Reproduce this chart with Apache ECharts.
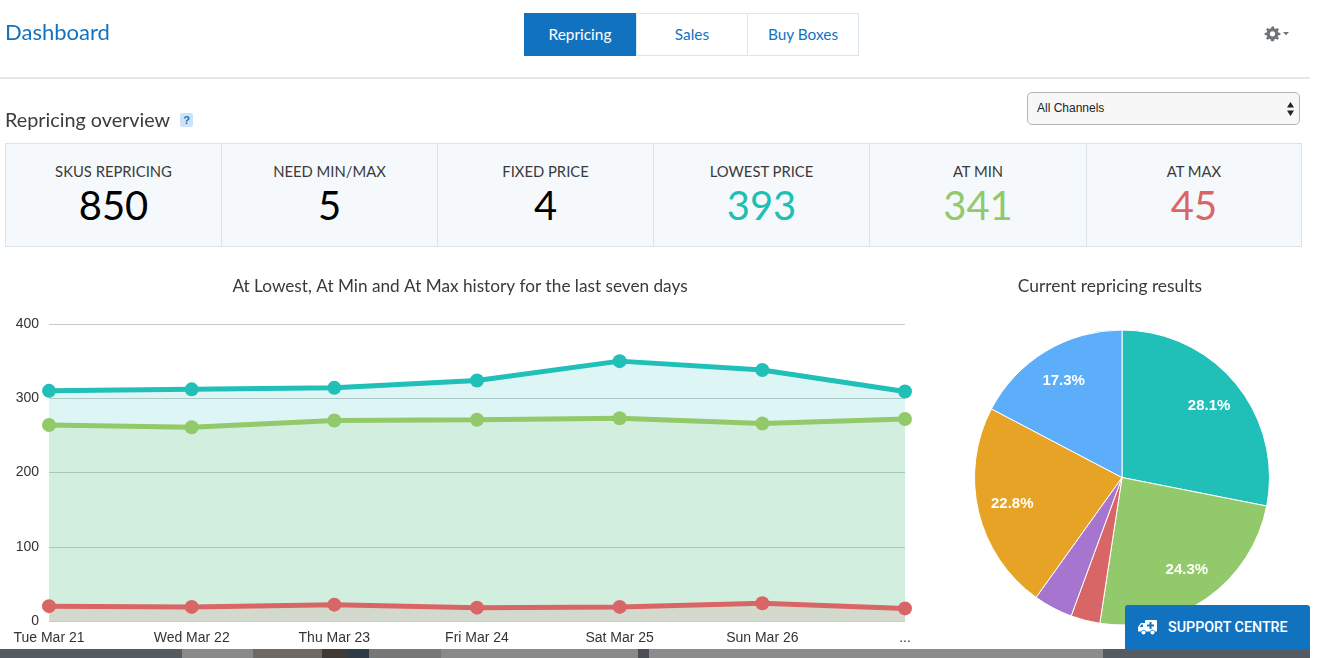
<!DOCTYPE html>
<html><head><meta charset="utf-8">
<style>
html,body{margin:0;padding:0;width:1320px;height:658px;overflow:hidden;background:#fff;font-family:Lato,"Open Sans",sans-serif}
#chart{position:absolute;left:0;top:0;width:1320px;height:658px}
.a{position:absolute;box-sizing:border-box}
.tab{top:13px;height:43px;border:1px solid #dbe6f0;color:#1173c0;font-size:15.4px;line-height:40px;text-align:center;background:#fff}
.card{top:143px;height:104px;background:#f6f9fc;border:1px solid #dbe4ec;border-left:0;text-align:center}
.card .l{position:absolute;left:0;right:0;top:18px;font-size:14.8px;color:#3a3a3a;line-height:18px}
.card .v{position:absolute;left:0;right:0;top:37px;font-size:40px;line-height:48px}
</style></head><body>
<div id="chart"></div>
<div class="a" style="left:5px;top:18px;font-size:22px;color:#1173c0;line-height:28px">Dashboard</div>
<div class="a tab" style="left:524px;width:112px;background:#1173c0;border-color:#1173c0;color:#fff">Repricing</div>
<div class="a tab" style="left:636px;width:112px">Sales</div>
<div class="a tab" style="left:747px;width:112px">Buy Boxes</div>
<svg class="a" style="left:1264px;top:26px" width="26" height="16" viewBox="0 0 26 16"><path fill="#6f7478" d="M8 0.5h2l.4 2 1.3.6 1.8-1.1 1.4 1.4-1.1 1.8.6 1.3 2 .4v2l-2 .4-.6 1.3 1.1 1.8-1.4 1.4-1.8-1.1-1.3.6-.4 2H7l-.4-2-1.3-.6-1.8 1.1-1.4-1.4 1.1-1.8-.6-1.3-2-.4v-2l2-.4.6-1.3-1.1-1.8 1.4-1.4 1.8 1.1 1.3-.6z M8.500 5.200a2.600 2.600 0 1 0 0 5.200a2.600 2.600 0 1 0 0-5.200z" fill-rule="evenodd"/><path fill="#6f7478" d="M19 6h6l-3 3.200z"/></svg>
<div class="a" style="left:0;top:77px;width:1310px;height:2px;background:#e6e9ec"></div>
<div class="a" style="left:5px;top:107px;font-size:19.8px;color:#3c3c3c;line-height:24px">Repricing overview</div>
<div class="a" style="left:180px;top:113px;width:13px;height:14px;background:#cfe3f8;border-radius:2px;color:#1173c0;font:bold 11px/14px 'Liberation Sans';text-align:center">?</div>
<div class="a" style="left:1027px;top:92px;width:273px;height:33px;border:1px solid #b5b5b5;border-radius:5px;background:#f7f7f7;font:12px/31px 'Liberation Sans';color:#222;padding-left:9px">All Channels
  <svg style="position:absolute;right:5px;top:9px" width="7" height="14"><path fill="#222" d="M3.500 0L7 5.500H0zM3.500 14L0 8.500h7z"/></svg></div>
<div class="a card" style="left:5px;width:217px;border-left:1px solid #dbe4ec"><div class="l">SKUS REPRICING</div><div class="v" style="color:#000">850</div></div>
<div class="a card" style="left:222px;width:216px"><div class="l">NEED MIN/MAX</div><div class="v" style="color:#000">5</div></div>
<div class="a card" style="left:438px;width:216px"><div class="l">FIXED PRICE</div><div class="v" style="color:#000">4</div></div>
<div class="a card" style="left:654px;width:216px"><div class="l">LOWEST PRICE</div><div class="v" style="color:#1fbfb6">393</div></div>
<div class="a card" style="left:870px;width:217px"><div class="l">AT MIN</div><div class="v" style="color:#92c96a">341</div></div>
<div class="a card" style="left:1087px;width:215px"><div class="l">AT MAX</div><div class="v" style="color:#d96666">45</div></div>
<div class="a" style="left:0;top:649px;width:1310px;height:9px;background:linear-gradient(90deg,#555b63 0 182px,#8a8a8a 182px 253px,#6d6a66 253px 322px,#3d3a38 322px 348px,#2f3a44 348px 369px,#777 369px 441px,#8a8a8a 441px 638px,#4a4f55 638px 649px,#8c8c8c 649px 1103px,#555b63 1103px 1310px)"></div>
<div class="a" style="left:1125px;top:605px;width:185px;height:44px;background:#1173c0;border-radius:3px 3px 0 0;color:#fff;font:500 14.300px/44px Roboto;padding-left:43px">SUPPORT CENTRE
  <svg style="position:absolute;left:13px;top:14px" width="19" height="16" viewBox="0 0 19 16"><path fill="#fff" fill-rule="evenodd" d="M7 1h11a1 1 0 0 1 1 1v10.500h-2.200a2.400 2.400 0 0 0-4.600 0H7.800a2.400 2.400 0 0 0-4.600 0H0V8l3-4h4V2a1 1 0 0 1 1-1zM11.500 3v2.500H9v2h2.500V10h2V7.500H16v-2h-2.500V3zM3.400 5.500L1.600 8H5V5.500z"/><circle cx="5.500" cy="13.500" r="2" fill="#fff"/><circle cx="14.500" cy="13.500" r="2" fill="#fff"/></svg></div>
<script src="https://cdn.jsdelivr.net/npm/echarts@6/dist/echarts.min.js"></script>
<script>
const days = ["Tue Mar 21","Wed Mar 22","Thu Mar 23","Fri Mar 24","Sat Mar 25","Sun Mar 26","..."];
const yTicks = [0,100,200,300,400];
const atLowest = [310,312,314,324,350,338,309];
const atMin = [264,261,270,271,273,266,272];
const atMax = [20,19,22,18,19,24,17];
const pieNames = ["Lowest price","At min","At max","Fixed / other","No buy box","Other"];
const pieValues = [28.1,24.3,3.2,4.3,22.8,17.3];
const pieColors = ["#20bfb8","#92c96a","#d96666","#a575cf","#e6a326","#5caefb"];

function lineSeries(name,data,color,area,z){
  return {name,type:'line',data,z,symbol:'circle',symbolSize:14,smooth:false,
    lineStyle:{color,width:5},itemStyle:{color},
    areaStyle:{color:area,opacity:1},
    emphasis:{disabled:true}};
}
const chart = echarts.init(document.getElementById('chart'),null,{renderer:'canvas'});
chart.setOption({
  animation:false,
  textStyle:{fontFamily:'"Liberation Sans",Arial,sans-serif'},
  title:[
    {text:'At Lowest, At Min and At Max history for the last seven days',left:455,top:273,textAlign:'center',
     textStyle:{fontFamily:'Lato',fontSize:17.2,fontWeight:'normal',color:'#3a3a3a'}},
    {text:'Current repricing results',left:1105,top:273,textAlign:'center',
     textStyle:{fontFamily:'Lato',fontSize:17.4,fontWeight:'normal',color:'#3a3a3a'}}
  ],
  grid:{left:49,top:324,width:856,height:297,containLabel:false},
  xAxis:{type:'category',data:days,boundaryGap:false,
    axisLine:{show:false},axisTick:{show:false},
    axisLabel:{color:'#333',fontSize:14,margin:10,interval:0,hideOverlap:false}},
  yAxis:{type:'value',min:0,max:400,interval:100,
    axisLine:{show:false},axisTick:{show:false},
    axisLabel:{color:'#333',fontSize:14,margin:10,padding:[4,0,0,0],
      formatter:v=>yTicks.includes(v)?String(v):''},
    splitLine:{lineStyle:{color:'#c4cccc',width:1}}},
  series:[
    lineSeries('At Lowest',atLowest,'#20bfb8','rgba(29,191,179,0.15)',3),
    lineSeries('At Min',atMin,'#92c96a','rgba(146,201,106,0.15)',4),
    lineSeries('At Max',atMax,'#d96666','rgba(217,102,102,0.15)',5),
    {type:'pie',name:'Current repricing results',center:[1122,477.5],radius:[0,147.5],startAngle:90,clockwise:true,silent:true,
     data:pieNames.map((n,i)=>({name:n,value:pieValues[i],itemStyle:{color:pieColors[i]}})),
     itemStyle:{borderColor:'#fff',borderWidth:1},label:{show:false},labelLine:{show:false},z:6},
    {type:'pie',name:'labels',center:[1122,477.5],radius:[72,147.5],startAngle:90,clockwise:true,silent:true,
     data:pieNames.map((n,i)=>({name:n,value:pieValues[i],itemStyle:{color:'rgba(0,0,0,0)'},
       label:{show:pieValues[i]>5}})),
     label:{position:'inside',formatter:p=>p.value.toFixed(1)+'%',color:'#fff',fontSize:15,fontWeight:'bold',
       fontFamily:'"Liberation Sans",Arial,sans-serif'},labelLine:{show:false},z:7}
  ]
});
</script>
</body></html>
